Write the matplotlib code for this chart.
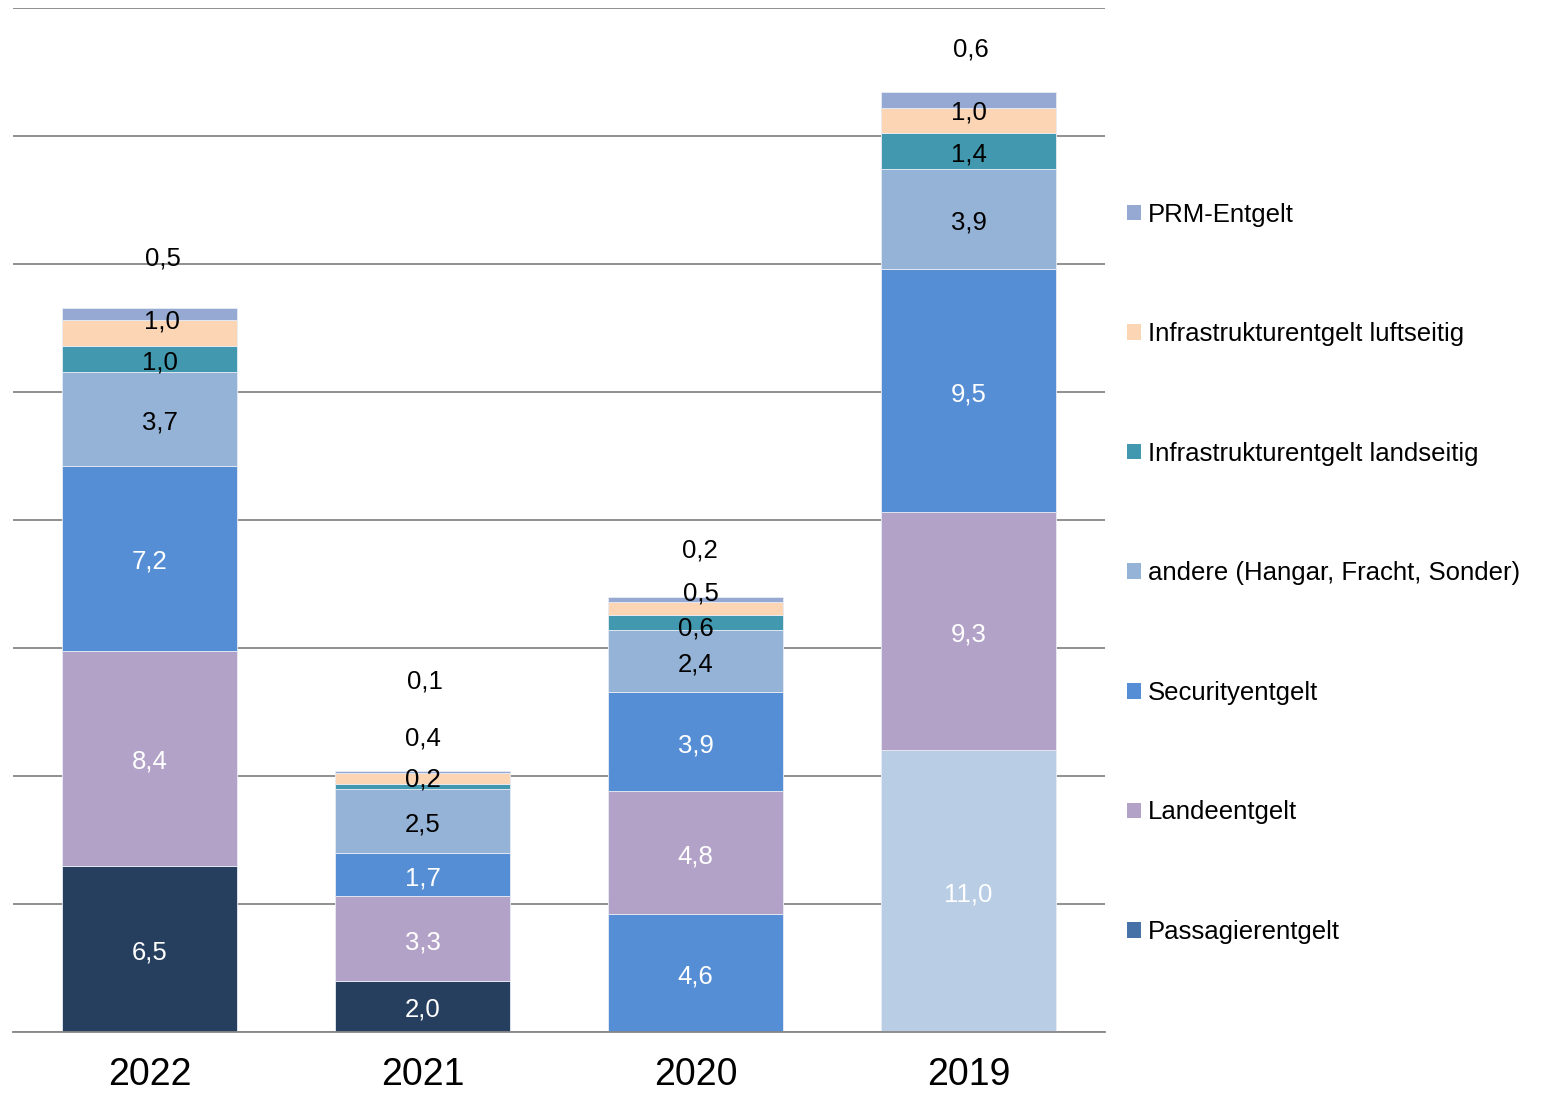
import numpy as np
import matplotlib
matplotlib.use('Agg')
import matplotlib.pyplot as plt
from matplotlib.patches import Patch

plt.rcParams['font.family'] = ['Liberation Sans', 'DejaVu Sans']

years = ['2022', '2021', '2020', '2019']
series = ['Passagierentgelt', 'Landeentgelt', 'Securityentgelt',
          'andere (Hangar, Fracht, Sonder)', 'Infrastrukturentgelt landseitig',
          'Infrastrukturentgelt luftseitig', 'PRM-Entgelt']
passagier = [6.5, 2.0, 4.6, 11.0]
lande = [8.4, 3.3, 4.8, 9.3]
security = [7.2, 1.7, 3.9, 9.5]
andere = [3.7, 2.5, 2.4, 3.9]
landseitig = [1.0, 0.2, 0.6, 1.4]
luftseitig = [1.0, 0.4, 0.5, 1.0]
prm = [0.5, 0.1, 0.2, 0.6]
values = [passagier, lande, security, andere, landseitig, luftseitig, prm]

# bottom segment is coloured per bar in the original
passagier_bar_colors = ['#263f5f', '#263f5f', '#558ed5', '#b9cde5']
colors = ['#4672a8', '#b3a2c7', '#558ed5', '#95b3d7', '#4198af', '#fcd5b5', '#95a9d2']
text_colors = ['white', 'white', 'white', 'black', 'black', 'black', 'black']
# label nudges (data units) for the thin top segments
nudge = {
    4: [0.0, 0.4, -0.1, 0.0],
    5: [0.6, 1.7, 0.7, 0.45],
    6: [2.3, 3.7, 2.05, 2.1],
}
# the black labels of the first bar sit a bit right of centre
xnudge = {3: [0.04, 0, 0, 0], 4: [0.04, 0, 0, 0],
          5: [0.045, 0, 0.02, 0], 6: [0.05, 0.01, 0.015, 0.01]}
FS = 18.5

fig = plt.figure(figsize=(15.44, 10.93), dpi=100)
ax = fig.add_axes([0.0084, 0.0558, 0.7073, 0.9369])

x = np.arange(len(years))
bottom = np.zeros(len(years))
for i, (name, vals) in enumerate(zip(series, values)):
    vals = np.array(vals)
    col = passagier_bar_colors if i == 0 else colors[i]
    ax.bar(x, vals, 0.64, bottom=bottom, color=col, edgecolor='#e8ecf4',
           linewidth=0.6, zorder=2)
    for j in range(len(years)):
        yc = bottom[j] + vals[j] / 2 + nudge.get(i, [0] * 4)[j] - 0.14
        xc = x[j] + xnudge.get(i, [0] * 4)[j]
        ax.text(xc, yc, f'{vals[j]:.1f}'.replace('.', ','), ha='center',
                va='center', fontsize=FS, color=text_colors[i], zorder=3)
    bottom += vals

ax.set_xlim(-0.5, 3.5)
ax.set_ylim(0, 40)
ax.set_yticks(np.arange(0, 41, 5))
ax.yaxis.grid(True, color='#878787', lw=1.3, zorder=0)
ax.set_axisbelow(True)
ax.tick_params(axis='y', left=False, labelleft=False)
ax.set_xticks(x)
ax.set_xticklabels(years, fontsize=27)
ax.tick_params(axis='x', length=0, pad=18)
for s in ['top', 'right', 'left']:
    ax.spines[s].set_visible(False)
ax.spines['bottom'].set_color('#878787')
ax.spines['bottom'].set_linewidth(1.3)

handles = [Patch(facecolor=c, edgecolor='none') for c in colors][::-1]
fig.legend(handles, series[::-1], loc='center left',
           bbox_to_anchor=(0.7299, 0.4755), frameon=False, fontsize=FS,
           handlelength=0.55, handleheight=0.55, handletextpad=0.25,
           labelspacing=3.72, borderpad=0, borderaxespad=0)

fig.savefig('out.png', dpi=100)
